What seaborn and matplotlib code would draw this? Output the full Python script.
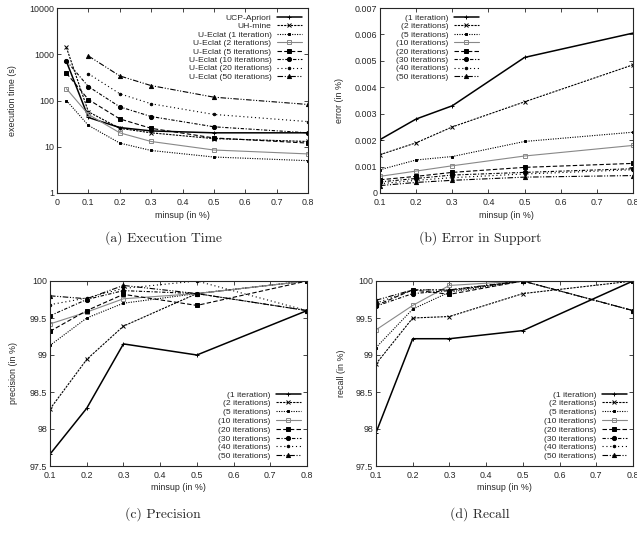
import numpy as np
import pandas as pd
import seaborn as sns
import matplotlib.pyplot as plt
from matplotlib.ticker import FixedLocator, NullLocator, FixedFormatter

sns.set_style("ticks")
plt.rcParams['font.family'] = ['Liberation Sans', 'DejaVu Sans']

# Data
minsup_a = [0.03, 0.1, 0.2, 0.3, 0.5, 0.8]
minsup = [0.1, 0.2, 0.3, 0.5, 0.8]

labels_a = ['UCP-Apriori', 'UH-mine', 'U-Eclat (1 iteration)', 'U-Eclat (2 iterations)',
            'U-Eclat (5 iterations)', 'U-Eclat (10 iterations)', 'U-Eclat (20 iterations)',
            'U-Eclat (50 iterations)']
time_ucp = [700, 43, 26, 22, 20, 20]
time_uhmine = [1400, 57, 25, 20, 15, 13]
time_it1 = [100, 29, 12, 8.3, 6, 5]
time_it2 = [180, 50, 20, 13, 8.5, 7]
time_it5 = [390, 105, 40, 25, 15.5, 12]
time_it10 = [720, 200, 73, 45, 27, 20]
time_it20 = [np.nan, 380, 140, 85, 50, 35]
time_it50 = [np.nan, 920, 340, 210, 118, 82]

labels_it = ['(1 iteration)', '(2 iterations)', '(5 iterations)', '(10 iterations)',
             '(20 iterations)', '(30 iterations)', '(40 iterations)', '(50 iterations)']
err = [
    [0.00202, 0.0028, 0.0033, 0.00513, 0.00605],
    [0.00145, 0.0019, 0.0025, 0.00345, 0.00485],
    [0.00088, 0.00125, 0.00138, 0.00195, 0.0023],
    [0.00063, 0.00083, 0.00103, 0.0014, 0.0018],
    [0.0005, 0.00063, 0.00078, 0.00097, 0.00112],
    [0.00042, 0.00055, 0.00068, 0.00078, 0.00092],
    [0.00035, 0.00048, 0.00058, 0.00072, 0.00088],
    [0.00028, 0.0004, 0.00048, 0.0006, 0.00066],
]
precision = [
    [97.66, 98.28, 99.15, 99.0, 99.6],
    [98.27, 98.94, 99.39, 99.83, 100],
    [99.13, 99.5, 99.7, 99.83, 100],
    [99.42, 99.58, 99.76, 99.83, 100],
    [99.32, 99.6, 99.82, 99.67, 100],
    [99.53, 99.75, 99.87, 99.83, 99.6],
    [99.68, 99.77, 99.9, 100, 99.6],
    [99.8, 99.76, 99.94, 99.83, 99.6],
]
recall = [
    [97.95, 99.22, 99.22, 99.33, 100],
    [98.88, 99.5, 99.52, 99.83, 100],
    [99.1, 99.62, 99.85, 100, 100],
    [99.34, 99.67, 99.94, 100, 100],
    [99.67, 99.88, 99.82, 100, 100],
    [99.66, 99.83, 99.87, 100, 99.6],
    [99.7, 99.88, 99.88, 100, 99.6],
    [99.74, 99.88, 99.88, 100, 99.6],
]

# gnuplot-like monochrome styles
styles = [
    dict(color='black', linestyle='-', marker='+', markersize=3, lw=1.1),
    dict(color='black', linestyle=(0, (2, 1)), marker='x', markersize=2.5, lw=0.8),
    dict(color='black', linestyle=(0, (1, 1.2)), marker='s', markersize=2, lw=0.8),
    dict(color='#888888', linestyle='-', marker='s', markersize=3.5, lw=0.8, markerfacecolor='none'),
    dict(color='black', linestyle=(0, (4, 2)), marker='s', markersize=2.8, lw=0.8),
    dict(color='black', linestyle=(0, (3, 1.5, 1, 1.5)), marker='o', markersize=3, lw=0.8),
    dict(color='black', linestyle=(0, (1, 2.5)), marker='o', markersize=1.8, lw=0.8),
    dict(color='black', linestyle=(0, (5, 1.5, 1, 1.5, 1, 1.5)), marker='^', markersize=3, lw=0.8),
]

FS = 6.4   # tick / axis labels
LFS = 6.1  # legend

W, H = 637, 534


def draw(ax, x, series, labels):
    for ys, lab, st in zip(series, labels, styles):
        sns.lineplot(x=x, y=ys, ax=ax, label=lab, markeredgecolor=st['color'],
                     markeredgewidth=0.7, **st)


def style_axes(ax, xticks, xlim, ylabel, left_px, ylab_px, ax_w):
    ax.set_xlim(*xlim)
    ax.set_xticks(xticks)
    ax.set_xticklabels([('%g' % t) for t in xticks])
    ax.tick_params(direction='in', top=True, right=True, labelsize=FS, length=3, width=0.6)
    ax.tick_params(axis='x', pad=3.5)
    ax.tick_params(axis='y', pad=2)
    ax.set_xlabel('minsup (in %)', fontsize=FS)
    ax.set_ylabel(ylabel, fontsize=FS)
    ax.xaxis.set_label_coords(0.5, -22 / 185, transform=ax.transAxes)
    ax.yaxis.set_label_coords((ylab_px - left_px) / ax_w, 0.5, transform=ax.transAxes)
    ax.xaxis.label.set_va('center')
    ax.yaxis.label.set_va('center')
    for s in ax.spines.values():
        s.set_linewidth(0.8)
        s.set_visible(True)


def legend(ax, loc, spacing, anchor=None):
    kw = dict(loc=loc, fontsize=LFS, frameon=False, markerfirst=False,
              handlelength=3.0, labelspacing=spacing, handletextpad=0.6,
              borderaxespad=0.3)
    if anchor is not None:
        kw['bbox_to_anchor'] = anchor
    return ax.legend(**kw)


fig = plt.figure(figsize=(W / 100, H / 100), dpi=100)


def box(l, r, t, b):
    return [l / W, 1 - b / H, (r - l) / W, (b - t) / H]


ax_a = fig.add_axes(box(57, 308, 8, 193))
ax_b = fig.add_axes(box(380, 633, 8, 193))
ax_c = fig.add_axes(box(50, 307, 281, 466))
ax_d = fig.add_axes(box(376, 633, 281, 466))

# (a) execution time
ax_a.set_yscale('log')
draw(ax_a, minsup_a, [time_ucp, time_uhmine, time_it1, time_it2, time_it5, time_it10,
                      time_it20, time_it50], labels_a)
style_axes(ax_a, [0, 0.1, 0.2, 0.3, 0.4, 0.5, 0.6, 0.7, 0.8], (0, 0.8),
           'execution time (s)', 57, 13, 251)
ax_a.set_ylim(1, 10000)
ax_a.yaxis.set_major_locator(FixedLocator([1, 10, 100, 1000, 10000]))
ax_a.yaxis.set_major_formatter(FixedFormatter(['1', '10', '100', '1000', '10000']))
ax_a.yaxis.set_minor_locator(NullLocator())
legend(ax_a, 'upper right', 0.06)

# (b) error
draw(ax_b, minsup, err, labels_it)
style_axes(ax_b, [0.1, 0.2, 0.3, 0.4, 0.5, 0.6, 0.7, 0.8], (0.1, 0.8),
           'error (in %)', 380, 340, 253)
ax_b.set_ylim(0, 0.007)
yt = [0, 0.001, 0.002, 0.003, 0.004, 0.005, 0.006, 0.007]
ax_b.set_yticks(yt)
ax_b.set_yticklabels(['0'] + ['%.3f' % v for v in yt[1:]])
legend(ax_b, 'upper left', 0.06, anchor=(0.04, 1.0))

# (c) precision / (d) recall
pr_ticks = [97.5, 98, 98.5, 99, 99.5, 100]
for ax, vals, name, lp, yl in [(ax_c, precision, 'precision (in %)', 50, 13),
                               (ax_d, recall, 'recall (in %)', 376, 341)]:
    draw(ax, minsup, vals, labels_it)
    style_axes(ax, [0.1, 0.2, 0.3, 0.4, 0.5, 0.6, 0.7, 0.8], (0.1, 0.8), name, lp, yl, 257)
    ax.set_ylim(97.5, 100)
    ax.set_yticks(pr_ticks)
    ax.set_yticklabels(['%g' % v for v in pr_ticks])
    legend(ax, 'lower right', 0.1)

cap = dict(fontsize=9.8, family='cmr10', ha='center', va='baseline')
fig.text(163 / W, 1 - 242 / H, '(a) Execution Time', **cap)
fig.text(480 / W, 1 - 242 / H, '(b) Error in Support', **cap)
fig.text(163 / W, 1 - 518 / H, '(c) Precision', **cap)
fig.text(480 / W, 1 - 518 / H, '(d) Recall', **cap)

fig.savefig('out.png', dpi=100)
